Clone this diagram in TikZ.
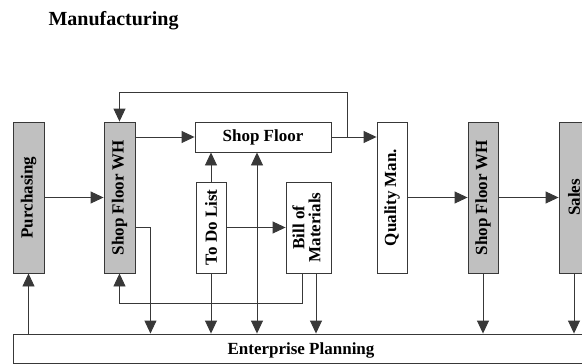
\documentclass[tikz,border=0pt]{standalone}
\usepackage{fontspec}
\setmainfont{Liberation Serif}
\usetikzlibrary{arrows.meta,calc,positioning}
\definecolor{linegray}{HTML}{383838}
\definecolor{boxgray}{HTML}{C0C0C0}
\tikzset{bighead/.tip={Triangle[length=13pt,width=12pt]}}

\begin{document}
\begin{tikzpicture}[x=1pt,y=-1pt,
  box/.style={draw=linegray,line width=0.9pt,inner sep=0pt,font=\fontsize{17}{19}\selectfont\bfseries},
  dept/.style={box,fill=boxgray},
  flow/.style={draw=linegray,line width=0.9pt,-bighead}]
\clip (0,0) rectangle (582,364);
\node[anchor=base west,font=\fontsize{20}{23}\selectfont\bfseries] (title) at (45,25) {Manufacturing};
\node[dept,minimum width=31pt,minimum height=151pt] (purch) at (28.5,197.5) {\rotatebox{90}{Purchasing}};
\node[dept,minimum width=31pt,minimum height=151pt] (wha) at (119.5,197.5) {\rotatebox{90}{Shop Floor WH}};
\node[box,minimum width=136pt,minimum height=30pt] (floor) at (263,137) {Shop Floor};
\node[box,minimum width=30pt,minimum height=91pt] (todo) at (211,227.5) {\rotatebox{90}{To Do List}};
\node[box,minimum width=45pt,minimum height=91pt] (bom) at (308.5,227.5) {\rotatebox{90}{\begin{tabular}{@{}c@{}}Bill of\\[-3pt]Materials\end{tabular}}};
\node[box,minimum width=30pt,minimum height=151pt] (qual) at (392,197.5) {\rotatebox{90}{Quality Man.}};
\node[dept,minimum width=30pt,minimum height=151pt] (whb) at (483,197.5) {\rotatebox{90}{Shop Floor WH}};
\node[dept,minimum width=30pt,minimum height=151pt] (sales) at (574,197.5) {\rotatebox{90}{Sales}};
\node[box,minimum width=582pt,minimum height=29pt,text depth=0pt] (erp) at (304,348.5) {\hspace*{-6pt}Enterprise Planning};
% upper flow
\draw[flow] (purch) -- (wha);
\draw[flow] (wha.east |- floor) -- (floor.west);
\draw[flow] (floor.east) -- (qual.west |- floor.east);
\draw[flow] ($(floor.east)+(16,0)$) coordinate (fb) -- ++(0,-45) -| (wha.north);
\draw[flow] (qual) -- (whb);
\draw[flow] (whb) -- (sales);
% inner flow
\draw[flow] (todo) -- (todo |- floor.south);
\draw[flow] (todo) -- (bom);
\draw[flow,bighead-bighead] ([xshift=-6pt]floor.south) -- ([xshift=-6pt]floor.south |- erp.north);
\draw[flow] ([xshift=-6.5pt]bom.south) -- ++(0,30) -| (wha.south);
% to enterprise planning
\draw[flow] (wha.east |- todo) -- ++(15,0) coordinate (wt) -- (wt |- erp.north);
\draw[flow] (todo.south) -- (todo |- erp.north);
\draw[flow] ([xshift=7.5pt]bom.south) coordinate (bt) -- (bt |- erp.north);
\draw[flow] (whb.south) -- (whb |- erp.north);
\draw[flow] (sales.south) -- (sales |- erp.north);
\draw[flow] (purch.south |- erp.north) -- (purch.south);
\end{tikzpicture}
\end{document}
